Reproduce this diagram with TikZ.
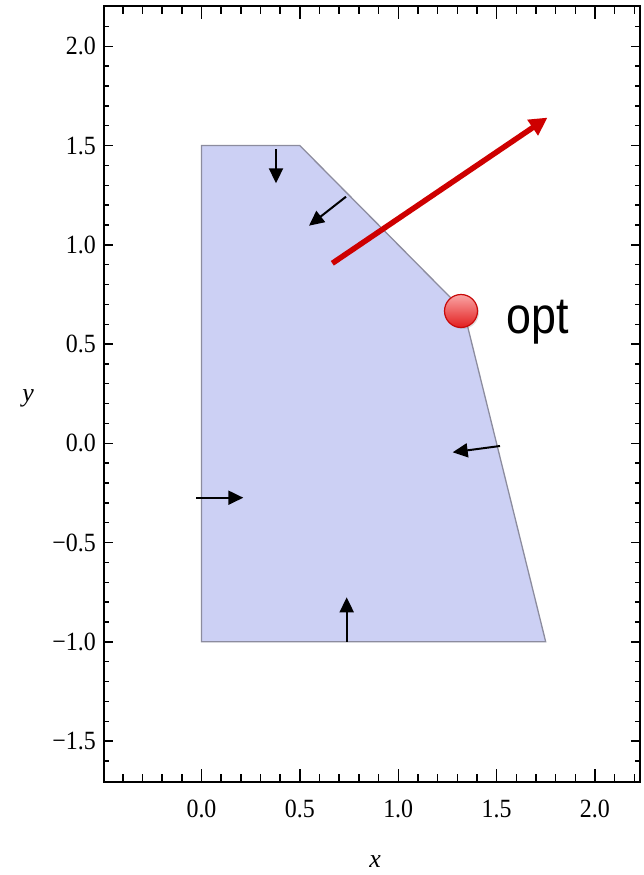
\documentclass[tikz,border=0pt]{standalone}
\usepackage{fontspec}
\setmainfont{Liberation Serif}
\newfontfamily\optfont{Liberation Sans}
\usetikzlibrary{arrows.meta,shadows}
\definecolor{regionfill}{RGB}{204,208,244}
\definecolor{regionedge}{RGB}{140,140,158}
\definecolor{objred}{RGB}{206,0,0}
\definecolor{balltop}{RGB}{250,165,165}
\definecolor{ballbot}{RGB}{226,30,30}
\definecolor{ballrim}{RGB}{200,10,10}
\begin{document}
\begin{tikzpicture}[x=1bp,y=-1bp,
  frameline/.style={line width=1.8bp,black},
  tickline/.style={line width=1.4bp,black},
  ticklabel/.style={font=\fontsize{24}{24}\selectfont, yscale=1.1, inner sep=0pt},
  axislabel/.style={font=\fontsize{26}{26}\selectfont\itshape, inner sep=0pt},
  gradarrow/.style={line width=2bp, black, -{Triangle[length=15bp,width=14bp]}},
  objarrow/.style={objred, line width=5.5bp, -{Triangle[length=18bp,width=18bp]}},
  region/.style={fill=regionfill, draw=regionedge, line width=1.3bp, line join=miter},
  optball/.style={circle, minimum size=33bp, inner sep=0pt, draw=ballrim, line width=1.2bp,
    top color=balltop, bottom color=ballbot,
    drop shadow={opacity=0.25, shadow xshift=1.5bp, shadow yshift=-1.5bp}},
  optlabel/.style={font=\optfont\fontsize{45}{45}\selectfont, yscale=1.15, inner sep=0pt, anchor=base west}]
\useasboundingbox (0,0) rectangle (644,875);

% feasible region
\coordinate (P1) at (201.5,145.55);
\coordinate (P2) at (299.85,145.55);
\coordinate (P3) at (463.8,311.0);
\coordinate (P4) at (545.7,641.8);
\coordinate (P5) at (201.5,641.8);
\path[region] (P1) -- (P2) -- (P3) -- (P4) -- (P5) -- cycle;

% frame
\coordinate (FL) at (104,6);
\coordinate (FR) at (640,781.7);
\draw[frameline] (FL) rectangle (FR);

% x ticks (bottom and top)
\foreach \i in {-4,...,22}{
  \pgfmathsetmacro\px{201.5+\i*19.67}
  \pgfmathsetmacro\tl{mod(\i,5)==0 ? 13 : 8}
  \draw[tickline] (\px,781.7) -- ++(0,-\tl);
  \draw[tickline] (\px,6) -- ++(0,\tl);
}
% y ticks (left and right)
\foreach \j in {-16,...,21}{
  \pgfmathsetmacro\py{443.3-\j*19.85}
  \pgfmathsetmacro\tl{mod(\j,5)==0 ? 9 : 5}
  \draw[tickline] (104,\py) -- ++(\tl,0);
  \draw[tickline] (640,\py) -- ++(-\tl,0);
}

% tick labels
\foreach \v/\i in {0.0/0,0.5/5,1.0/10,1.5/15,2.0/20}{
  \node[ticklabel] (xl\i) at ({201.5+\i*19.67},808.5) {\v};
}
\foreach \v/\j in {−1.5/-15,−1.0/-10,−0.5/-5,0.0/0,0.5/5,1.0/10,1.5/15,2.0/20}{
  \node[ticklabel, anchor=east] (yl\j) at (96,{443.3-\j*19.85}) {\v};
}

% axis labels
\node[axislabel] (xlab) at (375,862) {x};
\node[axislabel] (ylab) at (28,398) {y};

% constraint normals
\coordinate (a1s) at (276,149.3);  \coordinate (a1e) at (276,183.3);
\coordinate (a2s) at (346,196.7);  \coordinate (a2e) at (309,225.7);
\coordinate (a3s) at (500,446);    \coordinate (a3e) at (452.7,452.3);
\coordinate (a4s) at (196,497.7);  \coordinate (a4e) at (243.3,497.7);
\coordinate (a5s) at (346.7,641.7);\coordinate (a5e) at (346.7,597.3);
\draw[gradarrow] (a1s) -- (a1e);
\draw[gradarrow] (a2s) -- (a2e);
\draw[gradarrow] (a3s) -- (a3e);
\draw[gradarrow] (a4s) -- (a4e);
\draw[gradarrow] (a5s) -- (a5e);

% objective direction
\coordinate (cs) at (332.3,263.3);
\coordinate (ce) at (547.5,117.6);
\draw[objarrow] (cs) -- (ce);

% optimum
\node[optball] (opt) at (461,311) {};
\node[optlabel] (optlab) at (506,333.3) {opt};
\end{tikzpicture}
\end{document}
